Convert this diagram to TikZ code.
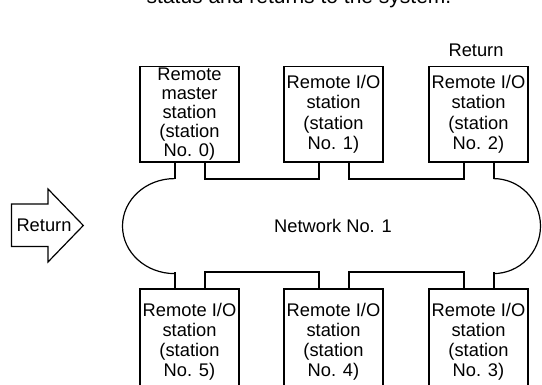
\documentclass[tikz,border=0pt]{standalone}
\usepackage{fontspec}
\setmainfont{Liberation Sans}

\begin{document}
\begin{tikzpicture}[
        x=1pt, y=1pt,
        station/.style={rectangle, draw, line width=1.2pt, minimum width=99pt, minimum height=95.5pt, inner sep=0pt, align=center, font=\fontsize{18.3}{20.5}\selectfont},
        lowstation/.style={station, minimum height=105.4pt, font=\fontsize{18.3}{20}\selectfont},
        link/.style={draw, line width=2pt},
        ring/.style={draw, line width=1.2pt},
        lbl/.style={font=\fontsize{18.3}{20}\selectfont, inner sep=0pt}
    ]
        \useasboundingbox (0,0) rectangle (542,385);

        \node[lbl, font=\fontsize{21}{24}\selectfont, anchor=base] (cap) at (299,381) {status and returns to the system.};

        \node[station, font=\fontsize{18.3}{19}\selectfont] (s0) at (189.5,270.75) {Remote\\master\\station\\(station\\No. 0)};
        \node[station] (s1) at (333.5,270.75) {Remote I/O\\station\\(station\\No. 1)};
        \node[station] (s2) at (478.5,270.75) {Remote I/O\\station\\(station\\No. 2)};
        \node[lowstation] (s5) at (189.5,43.3) {Remote I/O\\station\\(station\\No. 5)};
        \node[lowstation] (s4) at (333.5,43.3) {Remote I/O\\station\\(station\\No. 4)};
        \node[lowstation] (s3) at (478.5,43.3) {Remote I/O\\station\\(station\\No. 3)};

        \node[lbl] (ret2) at (476,335) {Return};
        \node[lbl] (net) at (333,159.5) {Network No. 1};

        % links between stations
        \draw[link] ([xshift=15pt]s0.south) -- ++(0,-16) -| ([xshift=-15pt]s1.south);
        \draw[link] ([xshift=15pt]s1.south) -- ++(0,-16) -| ([xshift=-15pt]s2.south);
        \draw[link] ([xshift=15pt]s5.north) -- ++(0,16) -| ([xshift=-15pt]s4.north);
        \draw[link] ([xshift=15pt]s4.north) -- ++(0,16) -| ([xshift=-15pt]s3.north);

        % loop ends
        \draw[link] ([xshift=-15pt]s0.south) -- ++(0,-16) coordinate (l0);
        \draw[link] ([xshift=-15pt]s5.north) -- ++(0,16) coordinate (l5);
        \draw[ring] (l0) arc[start angle=90, end angle=270, x radius=52pt, y radius=47.5pt];
        \draw[link] ([xshift=15pt]s2.south) -- ++(0,-16) coordinate (r2);
        \draw[link] ([xshift=15pt]s3.north) -- ++(0,16) coordinate (r3);
        \draw[ring] (r2) arc[start angle=90, end angle=-90, x radius=47pt, y radius=47.5pt];

        % return arrow
        \draw[line width=1.2pt] (11.5,181) -- (48,181) -- (48,196) -- (83.3,159.5) -- (48,123) -- (48,138.5) -- (11.5,138.5) -- cycle;
        \node[lbl] (ret) at (44,159.5) {Return};
    \end{tikzpicture}
\end{document}
